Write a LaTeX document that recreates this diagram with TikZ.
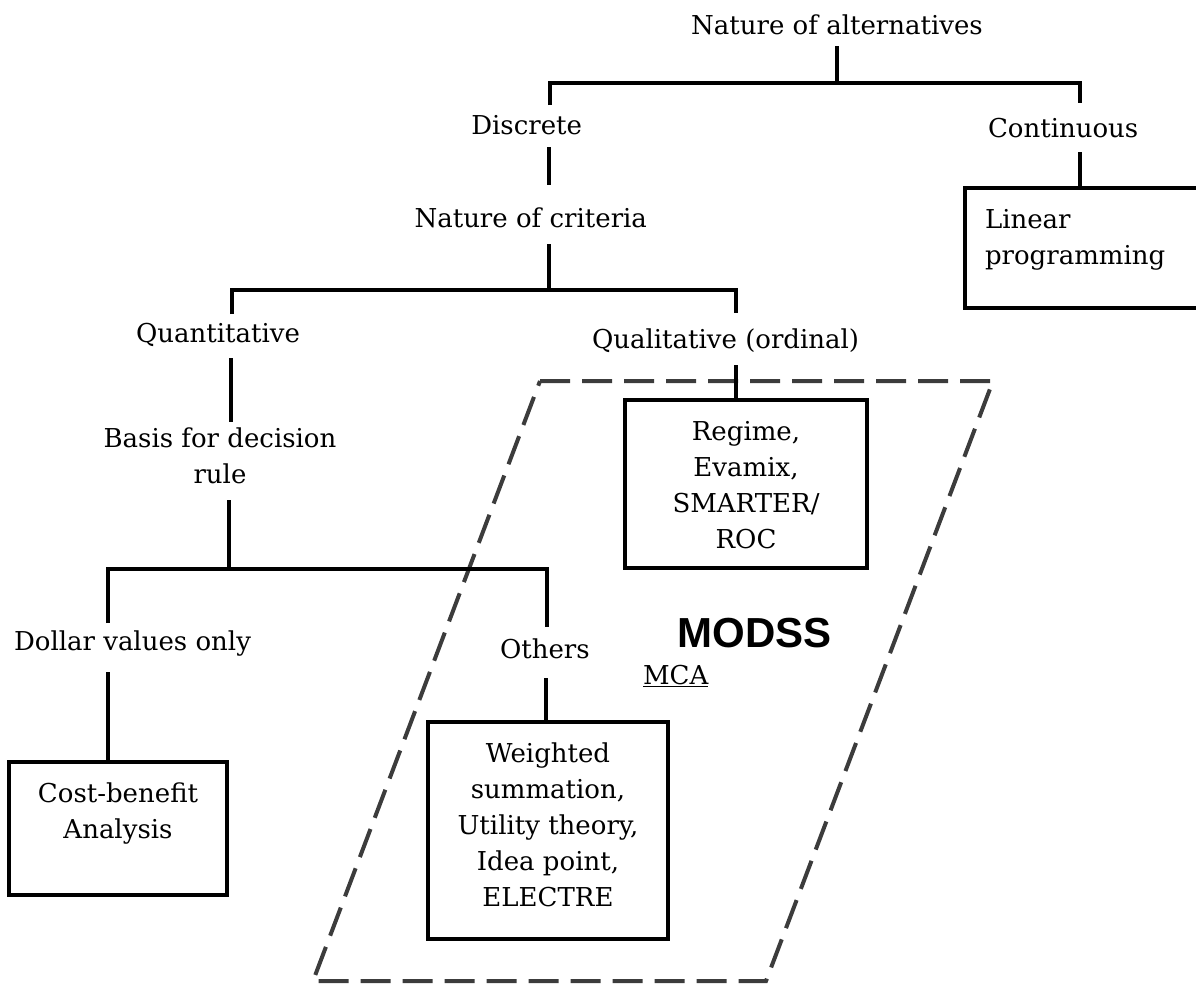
\documentclass[tikz,border=0pt]{standalone}
\usepackage{fontspec}
\setmainfont{DejaVu Serif}
\newfontfamily\labelsans{Liberation Sans}
\definecolor{zonegray}{RGB}{60,60,60}
\begin{document}
\begin{tikzpicture}[x=1pt,y=-1pt,
  every node/.style={inner sep=0pt, outer sep=0pt},
  lbl/.style={font=\fontsize{26}{36}\selectfont, anchor=base},
  blk/.style={font=\fontsize{26}{36}\selectfont, align=center, anchor=north},
  branch/.style={draw=black, line width=3.2pt},
  box/.style={draw=black, line width=3.5pt, rectangle},
  zone/.style={draw=zonegray, line width=4pt, dash pattern=on 30pt off 12pt},
]
\useasboundingbox (0,0) rectangle (1196,983);
\clip (0,0) rectangle (1196,983);

% MODSS / MCA region
\draw[zone] (540,381) -- (993,381) -- (766,981) -- (313,981) -- cycle;

% labels of the decision tree
\node[lbl] (natalt) at (837,34) {Nature of alternatives};
\node[lbl, anchor=base east] (discrete) at (582,134) {Discrete};
\node[lbl, anchor=base west] (continuous) at (988,137) {Continuous};
\node[lbl, anchor=base east] (criteria) at (647,227) {Nature of criteria};
\node[lbl, anchor=base east] (quant) at (300,342) {Quantitative};
\node[lbl, anchor=base west] (qual) at (592,348) {Qualitative (ordinal)};
\node[blk] (basis) at (220,421.8) {\strut Basis for decision\\rule};
\node[lbl, anchor=base west] (dollar) at (14,650) {Dollar values only};
\node[lbl, anchor=base west] (others) at (500,658) {Others};
\node[lbl, anchor=base west] (mca) at (643,684) {\underline{MCA}};
\node[anchor=base east, font=\labelsans\bfseries\fontsize{42}{50}\selectfont] (modss) at (832,647) {MODSS};

% method boxes
\node[box, minimum width=260, minimum height=120, anchor=north west] (lp) at (965,188) {};
\node[blk, align=left, anchor=north west] (lptext) at (985,202.8) {\strut Linear\\programming};
\node[box, minimum width=242, minimum height=168, anchor=north west] (regime) at (625,400) {};
\node[blk] (regimetext) at (746,414.8) {\strut Regime,\\Evamix,\\SMARTER/\\ROC};
\node[box, minimum width=240, minimum height=217, anchor=north west] (weighted) at (428,722) {};
\node[blk] (weightedtext) at (548,736.8) {\strut Weighted\\summation,\\Utility theory,\\Idea point,\\ELECTRE};
\node[box, minimum width=218, minimum height=133, anchor=north west] (cb) at (9,762) {};
\node[blk] (cbtext) at (118,776.8) {\strut Cost-benefit\\Analysis};

% connector end points
\coordinate (alt-foot) at (837,46);
\coordinate (alt-fork) at (837,83);
\coordinate (disc-head) at (550,105);
\coordinate (cont-head) at (1080,103);
\coordinate (disc-foot) at (549,147);
\coordinate (crit-head) at (549,185);
\coordinate (cont-foot) at (1080,152);
\coordinate (crit-foot) at (549,244);
\coordinate (crit-fork) at (549,290);
\coordinate (quant-head) at (232,314);
\coordinate (qual-head) at (736,313);
\coordinate (quant-foot) at (231,358);
\coordinate (qual-foot) at (736,365);
\coordinate (basis-foot) at (229,500);
\coordinate (basis-fork) at (229,569);
\coordinate (dollar-head) at (108,623);
\coordinate (others-head) at (547,627);
\coordinate (dollar-foot) at (108,672);
\coordinate (others-foot) at (546,678);

% tree connectors
\draw[branch] (alt-foot) -- (alt-fork);
\draw[branch] (disc-head) |- (alt-fork) -| (cont-head);
\draw[branch] (disc-foot) -- (crit-head);
\draw[branch] (cont-foot) -- (cont-foot |- lp.north);
\draw[branch] (crit-foot) -- (crit-fork);
\draw[branch] (quant-head) |- (crit-fork) -| (qual-head);
\draw[branch] (quant-foot) -- (quant-foot |- basis.north);
\draw[branch] (qual-foot) -- (qual-foot |- regime.north);
\draw[branch] (basis-foot) -- (basis-fork);
\draw[branch] (dollar-head) |- (basis-fork) -| (others-head);
\draw[branch] (dollar-foot) -- (dollar-foot |- cb.north);
\draw[branch] (others-foot) -- (others-foot |- weighted.north);
\end{tikzpicture}
\end{document}
